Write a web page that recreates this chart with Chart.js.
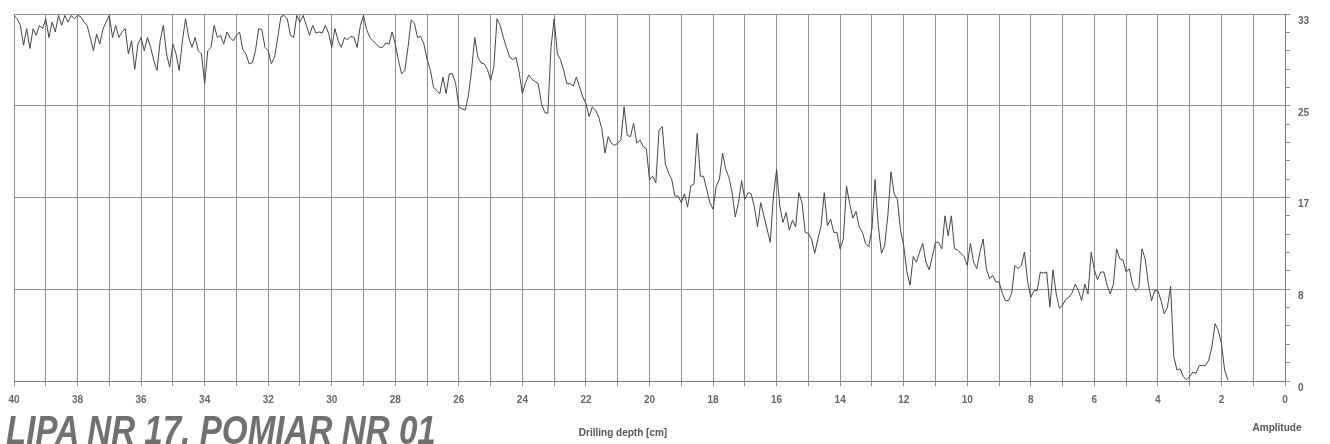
<!DOCTYPE html>
<html lang="en">
  <head>
    <meta charset="UTF-8" />
    <title>LIPA NR 17. POMIAR NR 01</title>
    <script src="https://cdn.jsdelivr.net/npm/chart.js"></script>
    <style>
      body { margin: 0; background: #fff; }
      #wrap { position: relative; width: 1330px; height: 444px; overflow: hidden; }
      #chart { position: absolute; left: 0; top: 0; width: 1330px; height: 444px; }
      .lbl { position: absolute; font-family: "Liberation Sans", Arial, sans-serif; color: #555; white-space: nowrap; }
      #title {
        left: 6px; top: 410px; font-size: 40px; line-height: 40px;
        font-weight: bold; font-style: italic; color: #707070;
        transform: scaleX(0.83); transform-origin: left top;
      }
      #xtitle { left: 623px; top: 427px; font-size: 10px; font-weight: bold; transform: translateX(-50%); }
      #ytitle { left: 1277px; top: 422px; font-size: 10px; font-weight: bold; transform: translateX(-50%); }
    </style>
  </head>
  <body>
    <div id="wrap">
      <div id="chart"><canvas></canvas></div>
      <div class="lbl" id="title">LIPA NR 17. POMIAR NR 01</div>
      <div class="lbl" id="xtitle">Drilling depth [cm]</div>
      <div class="lbl" id="ytitle">Amplitude</div>
    </div>
    <script>
      // amplitude, one sample every 0.1 cm starting at 40 cm
      const startDepth = 40;
      const depthStep = 0.1;
      const amp40to30 = [
        33.2, 32.9, 32.3, 30.5, 32.0, 30.2, 32.0, 31.4, 32.3, 32.0,
        32.9, 31.2, 32.6, 31.7, 33.2, 32.3, 33.2, 32.6, 33.2, 32.9,
        33.2, 33.1, 32.6, 32.3, 31.2, 30.0, 31.5, 30.6, 32.0, 32.6,
        33.2, 31.2, 32.3, 31.2, 31.7, 32.0, 29.7, 30.9, 28.3, 30.6,
        31.2, 30.0, 31.2, 30.3, 29.1, 28.2, 30.9, 32.3, 29.7, 28.5,
        30.6, 29.7, 28.2, 30.9, 32.9, 31.2, 30.3, 31.2, 30.0, 29.7,
        27.0, 30.0, 30.3, 32.3, 31.2, 31.4, 30.6, 31.7, 31.2, 30.9,
        31.4, 31.7, 30.1, 29.7, 28.8, 28.9, 30.0, 32.0, 31.9, 30.3,
        30.0, 28.8, 29.4, 31.2, 33.1, 33.2, 32.9, 31.4, 31.2, 33.2,
        32.6, 33.2, 32.3, 31.4, 32.3, 31.6, 31.7, 31.6, 32.3, 31.6,
      ];
      const amp30to20 = [
        30.3, 32.0, 30.9, 30.3, 31.2, 31.0, 31.3, 31.2, 30.3, 32.3,
        33.2, 31.9, 31.2, 30.9, 30.6, 30.3, 30.3, 30.7, 30.6, 31.7,
        30.6, 29.1, 27.9, 28.2, 30.3, 32.8, 32.5, 31.2, 31.3, 30.6,
        29.2, 28.3, 26.7, 26.4, 26.1, 27.6, 26.1, 27.9, 27.9, 27.0,
        24.9, 24.7, 24.6, 25.9, 28.2, 31.2, 29.4, 28.9, 28.8, 28.3,
        27.3, 28.5, 32.9, 32.3, 31.2, 30.3, 29.4, 29.2, 29.4, 28.0,
        26.1, 27.1, 27.8, 27.4, 27.2, 27.0, 25.2, 24.4, 24.3, 30.3,
        32.9, 29.7, 29.2, 28.2, 27.0, 27.0, 26.8, 27.6, 26.7, 25.8,
        25.2, 24.0, 24.9, 24.6, 24.0, 22.9, 20.7, 22.2, 21.6, 21.4,
        21.6, 21.9, 24.9, 22.3, 22.2, 23.4, 21.6, 21.9, 21.3, 21.1,
      ];
      const amp20to10 = [
        18.3, 18.6, 18.0, 22.8, 23.1, 19.7, 18.9, 18.3, 16.8, 16.8,
        16.2, 17.0, 15.8, 17.7, 17.9, 22.5, 18.6, 18.6, 17.4, 16.2,
        15.6, 17.7, 18.3, 20.7, 19.2, 18.5, 17.1, 14.9, 16.2, 18.2,
        16.5, 17.1, 17.0, 15.8, 14.0, 16.2, 15.0, 13.8, 12.6, 16.8,
        19.2, 15.9, 14.4, 15.3, 13.7, 14.6, 14.0, 17.1, 16.2, 13.5,
        13.4, 12.9, 11.6, 12.9, 14.1, 17.1, 14.1, 14.7, 13.5, 13.5,
        12.0, 12.9, 17.7, 16.1, 14.8, 15.4, 14.0, 13.5, 12.5, 12.2,
        13.8, 18.3, 14.1, 11.6, 12.3, 15.0, 19.0, 17.0, 16.5, 13.7,
        12.3, 9.9, 8.7, 11.3, 10.8, 11.7, 12.5, 10.8, 10.1, 11.3,
        12.6, 12.6, 12.0, 15.0, 13.2, 15.0, 12.0, 11.9, 11.6, 11.3,
      ];
      const amp10to2 = [
        10.5, 12.5, 10.8, 10.2, 11.7, 12.9, 10.2, 9.3, 9.6, 9.0,
        9.0, 8.0, 7.3, 7.3, 8.0, 10.5, 10.2, 10.5, 11.7, 9.05,
        7.6, 8.2, 8.2, 9.9, 9.8, 9.9, 6.7, 10.1, 7.9, 6.6,
        6.9, 7.4, 7.6, 8.0, 8.8, 8.2, 7.3, 8.8, 7.9, 11.7,
        10.1, 9.2, 9.9, 9.9, 8.7, 7.9, 8.8, 12.0, 11.1, 11.0,
        9.9, 10.2, 8.8, 8.2, 8.5, 12.0, 11.1, 8.8, 7.3, 8.2,
        8.2, 7.3, 6.1, 6.7, 8.6, 2.2, 1.0, 1.1, 0.4, 0.1,
        0.4, 0.8, 0.7, 1.4, 1.4, 1.4, 1.9, 3.1, 5.2, 4.6,
        3.4, 1.0, 0.1,
      ];

      const yMax = 100 / 3;
      const yMinorPerMajor = 5;
      const yMajorCount = 4;

      const amplitude = [...amp40to30, ...amp30to20, ...amp20to10, ...amp10to2];
      const points = amplitude.map((a, i) => ({
        x: +(startDepth - i * depthStep).toFixed(2),
        y: a,
      }));

      const tickFont = { family: "Liberation Sans, Arial, sans-serif", size: 10, weight: "bold" };

      new Chart(document.querySelector("#chart canvas"), {
        type: "line",
        data: {
          datasets: [
            {
              data: points,
              borderColor: "#444",
              borderWidth: 1,
              pointRadius: 0,
              tension: 0,
            },
          ],
        },
        options: {
          responsive: true,
          maintainAspectRatio: false,
          animation: false,
          layout: { padding: { left: 14, top: 9, right: 0, bottom: 0 } },
          plugins: { legend: { display: false }, tooltip: { enabled: false } },
          scales: {
            x: {
              type: "linear",
              reverse: true,
              min: 0,
              max: 40,
              afterFit: (s) => { s.height = 63; },
              border: { display: true, color: "#777" },
              grid: { color: "#8f8f8f", tickColor: "#8f8f8f", tickLength: 5 },
              ticks: {
                stepSize: 1,
                autoSkip: false,
                maxRotation: 0,
                padding: 8,
                color: "#666",
                font: tickFont,
                callback: (v) => (v % 2 === 0 ? v : ""),
              },
            },
            y: {
              position: "right",
              min: 0,
              max: yMax,
              afterFit: (s) => { s.width = 45; },
              afterBuildTicks: (s) => {
                const n = yMajorCount * yMinorPerMajor;
                s.ticks = Array.from({ length: n + 1 }, (_, i) => ({ value: (yMax * i) / n }));
              },
              border: { display: true, color: "#777" },
              grid: {
                color: (c) => (c.index % yMinorPerMajor === 0 ? "#8f8f8f" : "rgba(0,0,0,0)"),
                tickColor: "#8f8f8f",
                tickLength: 5,
              },
              ticks: {
                autoSkip: false,
                padding: 8,
                labelOffset: 7,
                color: "#666",
                font: tickFont,
                callback: (v, i) => (i % yMinorPerMajor === 0 ? Math.round(v) : ""),
              },
            },
          },
        },
      });
    </script>
  </body>
</html>
